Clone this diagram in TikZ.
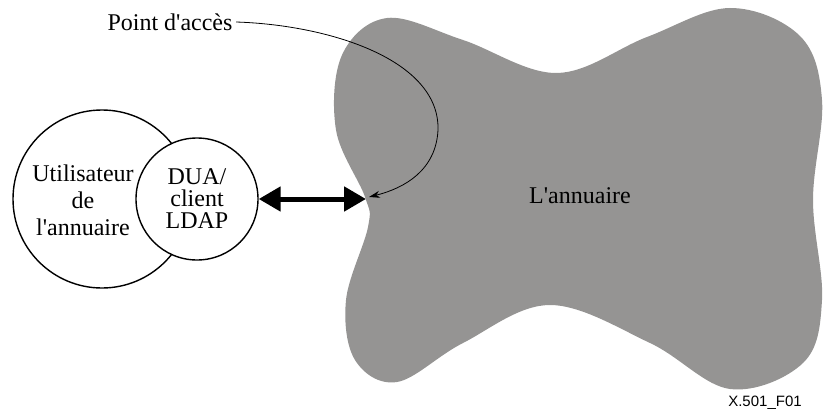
\documentclass[tikz,border=0pt]{standalone}
\usepackage{fontspec}
\setmainfont{Liberation Serif}
\setsansfont{Liberation Sans}
\usepackage{tikz}
\usetikzlibrary{arrows.meta, positioning}
\definecolor{annugray}{RGB}{149,148,147}

\begin{document}
\begin{tikzpicture}[
    x=1pt, y=-1pt,
    every node/.style={font=\fontsize{24}{27}\selectfont},
    ring/.style={circle, draw=black, line width=1.4pt, fill=white, inner sep=0pt},
    dblarrow/.style={{Triangle[length=22pt, width=24pt]}-{Triangle[length=22pt, width=24pt]}, line width=5pt},
    leader/.style={-{Stealth[length=11pt, width=7pt]}, line width=0.8pt}
]
\useasboundingbox (0,0) rectangle (824,412);

% l'annuaire
\fill[annugray] plot[smooth cycle, tension=0.6] coordinates {
    (387,18) (463,40) (557,73) (647,37) (730,8) (800,36) (822,100)
    (813,200) (822,300) (803,363) (730,389) (650,343) (550,305)
    (463,343) (397,382) (355,360) (346,300) (368,227) (365,197)
    (336,130) (342,55)};

\node[ring, minimum size=178pt] (utilisateur) at (102,199) {};
\node[align=center] (usertext) at (83,200) {Utilisateur\\de\\l\textquotesingle annuaire};
\node[ring, minimum size=122pt, align=center, font=\fontsize{24}{22}\selectfont] (dua) at (197,199) {DUA/\\client\\LDAP};
\node (annuaire) at (580,196) {L\textquotesingle annuaire};
\node (acces) at (170,22) {Point d\textquotesingle accès};
\node[font=\sffamily\fontsize{15}{18}\selectfont] (figref) at (765,403) {X.501\_F01};

\coordinate (bord) at (366,199);
\coordinate (pointacces) at (369,197);

\draw[dblarrow] (dua.east) -- (bord);
\draw[leader] (acces.east) .. controls (330,25) and (440,60) .. (438,130)
    .. controls (436,170) and (405,188) .. (pointacces);

\end{tikzpicture}
\end{document}
